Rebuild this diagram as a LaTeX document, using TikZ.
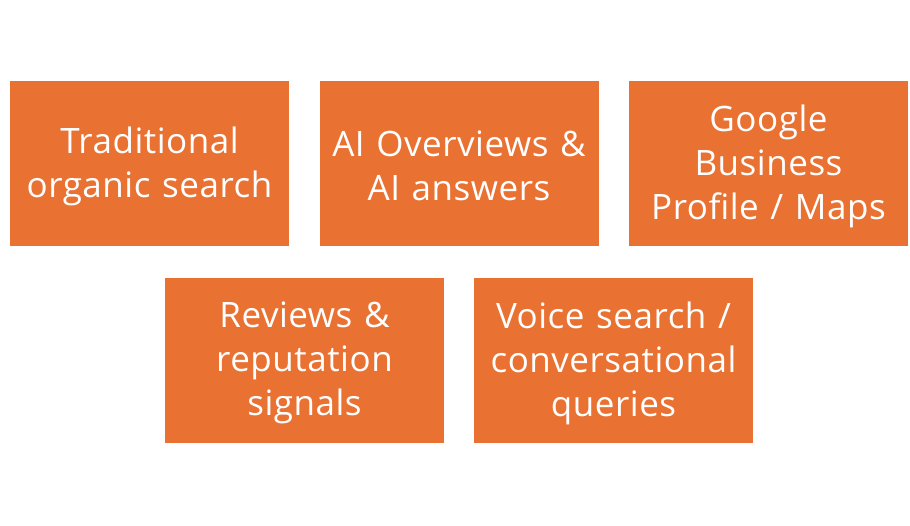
\documentclass[tikz,border=0pt]{standalone}
\usepackage{fontspec}
\setmainfont[LetterSpace=1.5]{Open Sans}
\definecolor{boxorange}{HTML}{E97132}
\begin{document}
\begin{tikzpicture}[x=1pt,y=-1pt,
  tile/.style={fill=boxorange, draw=none, minimum width=279pt, minimum height=165pt,
    inner sep=0pt},
  tiletext/.style={inner sep=0pt, text=white, align=center, text width=278pt,
    font=\fontsize{35}{44}\selectfont}]
\useasboundingbox[fill=white] (0,0) rectangle (910,525);
\node[tile] (a) at (149.5,163.5) {};
\node[tile] (b) at (459,163.5) {};
\node[tile] (c) at (768.5,163.5) {};
\node[tile] (d) at (304.5,360.5) {};
\node[tile] (e) at (613.5,360.5) {};
\node[tiletext] (ta) at ([yshift=-2.5pt]a.center) {Traditional\\organic search};
\node[tiletext] (tb) at ([yshift=-2.5pt]b.center) {AI Overviews \&\\AI answers};
\node[tiletext] (tc) at ([yshift=-2.5pt]c.center) {Google\\Business\\Profile / Maps};
\node[tiletext] (td) at ([yshift=-2.5pt]d.center) {Reviews \&\\reputation\\signals};
\node[tiletext] (te) at ([yshift=-2.5pt]e.center) {Voice search /\\conversational\\queries};
\end{tikzpicture}
\end{document}
